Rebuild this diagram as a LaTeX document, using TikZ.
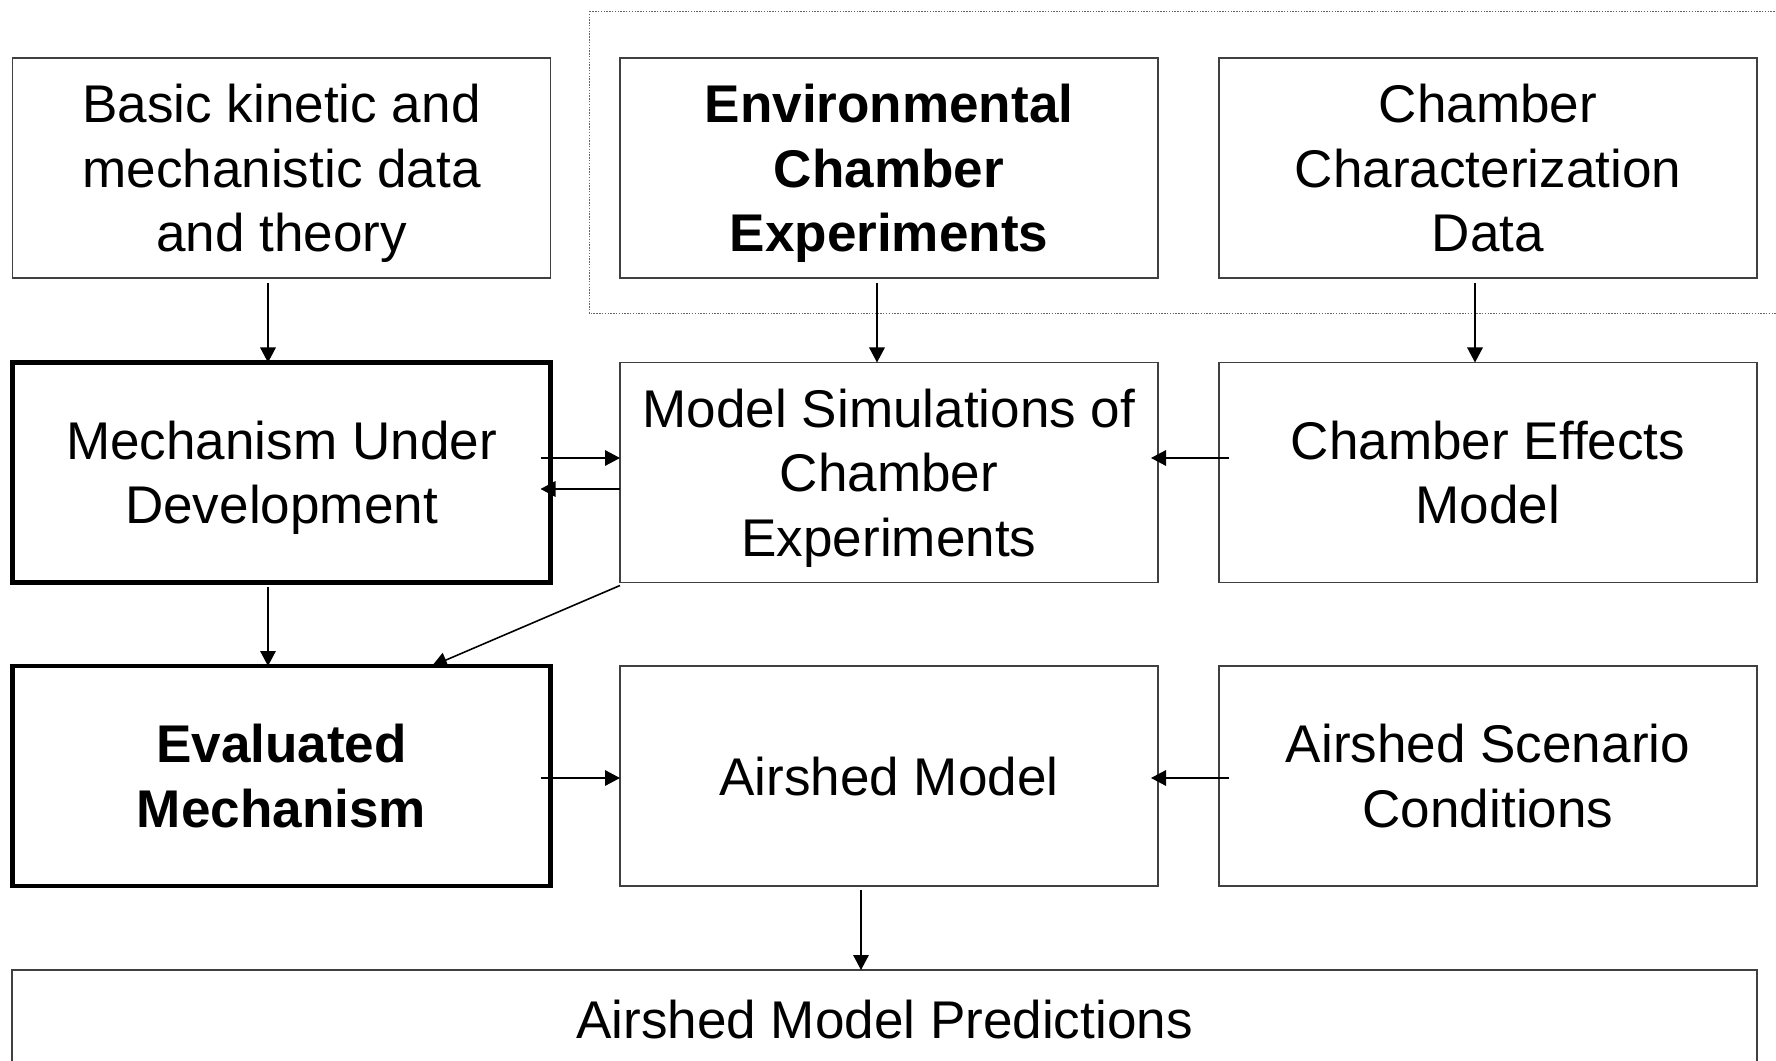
\documentclass[tikz,border=0pt]{standalone}
\usepackage{fontspec}
\setmainfont{Liberation Sans}
\usetikzlibrary{arrows.meta}
\tikzset{
	hop/.style={draw=black!75, line width=0.6pt, minimum width=10.76cm, minimum height=4.4cm, align=center, text depth=0pt, inner sep=0pt, outer sep=0pt},
	hopdam/.style={hop, draw=black, line width=2.3pt},
	muiten/.style={-{Triangle[length=3mm,width=3.1mm]}, line width=0.9pt}
}
\begin{document}
\begin{tikzpicture}[line join=miter,font=\fontsize{30.2pt}{36.7pt}\selectfont]
	% Khung trang
	\useasboundingbox (0,0) rectangle (35.52,-21.22);
	% Khung chấm bao hai ô trên
	\draw [black!60, line width=0.5pt, dash pattern=on 0.8pt off 0.8pt] (11.78,-0.22) rectangle (35.9,-6.26);
	% Hàng 1
	\node [hop] (coban) at (5.63,-3.36) {Basic kinetic and\\mechanistic data\\and theory};
	\node [hop] (thinghiem) at (17.78,-3.36) {\bfseries Environmental\\\bfseries Chamber\\\bfseries Experiments};
	\node [hop] (dactrung) at (29.76,-3.36) {Chamber\\Characterization\\Data};
	% Hàng 2
	\node [hopdam] (dangxd) at (5.63,-9.45) {Mechanism Under\\Development};
	\node [hop] (mophong) at (17.78,-9.45) {Model Simulations of\\Chamber\\Experiments};
	\node [hop] (hieuung) at (29.76,-9.45) {Chamber Effects\\Model};
	% Hàng 3
	\node [hopdam] (danhgia) at (5.63,-15.52) {\bfseries Evaluated\\\bfseries Mechanism};
	\node [hop] (airshed) at (17.78,-15.52) {Airshed Model};
	\node [hop] (kichban) at (29.76,-15.52) {Airshed Scenario\\Conditions};
	% Hàng 4
	\node [hop, minimum width=34.9cm, minimum height=1.96cm] (dudoan) at (17.69,-20.38) {Airshed Model Predictions};
	% Mũi tên dọc
	\draw [muiten] ([xshift=-2.7mm,yshift=-1mm]coban.south) -- ([xshift=-2.7mm]dangxd.north);
	\draw [muiten] ([xshift=-2.4mm,yshift=-1mm]thinghiem.south) -- ([xshift=-2.4mm]mophong.north);
	\draw [muiten] ([xshift=-2.6mm,yshift=-1mm]dactrung.south) -- ([xshift=-2.6mm]hieuung.north);
	\draw [muiten] ([xshift=-2.7mm,yshift=-0.8mm]dangxd.south) -- ([xshift=-2.7mm]danhgia.north);
	\coordinate (goc) at ([xshift=-5.6mm,yshift=-0.8mm]airshed.south);
	\draw [muiten] (goc) -- (goc |- dudoan.north);
	\draw [muiten] ([yshift=-0.6mm]mophong.south west) -- ([xshift=3.01cm]danhgia.north);
	% Mũi tên ngang
	\draw [muiten] ([xshift=-2mm,yshift=2.9mm]dangxd.east) -- ([yshift=2.9mm]mophong.west);
	\draw [muiten] ([yshift=-3.3mm]mophong.west) -- ([xshift=-2mm,yshift=-3.3mm]dangxd.east);
	\draw [muiten] ([xshift=2mm,yshift=2.9mm]hieuung.west) -- ([xshift=-1.4mm,yshift=2.9mm]mophong.east);
	\draw [muiten] ([xshift=-2mm,yshift=-0.4mm]danhgia.east) -- ([yshift=-0.4mm]airshed.west);
	\draw [muiten] ([xshift=2mm,yshift=-0.4mm]kichban.west) -- ([xshift=-1.4mm,yshift=-0.4mm]airshed.east);
\end{tikzpicture}
\end{document}
